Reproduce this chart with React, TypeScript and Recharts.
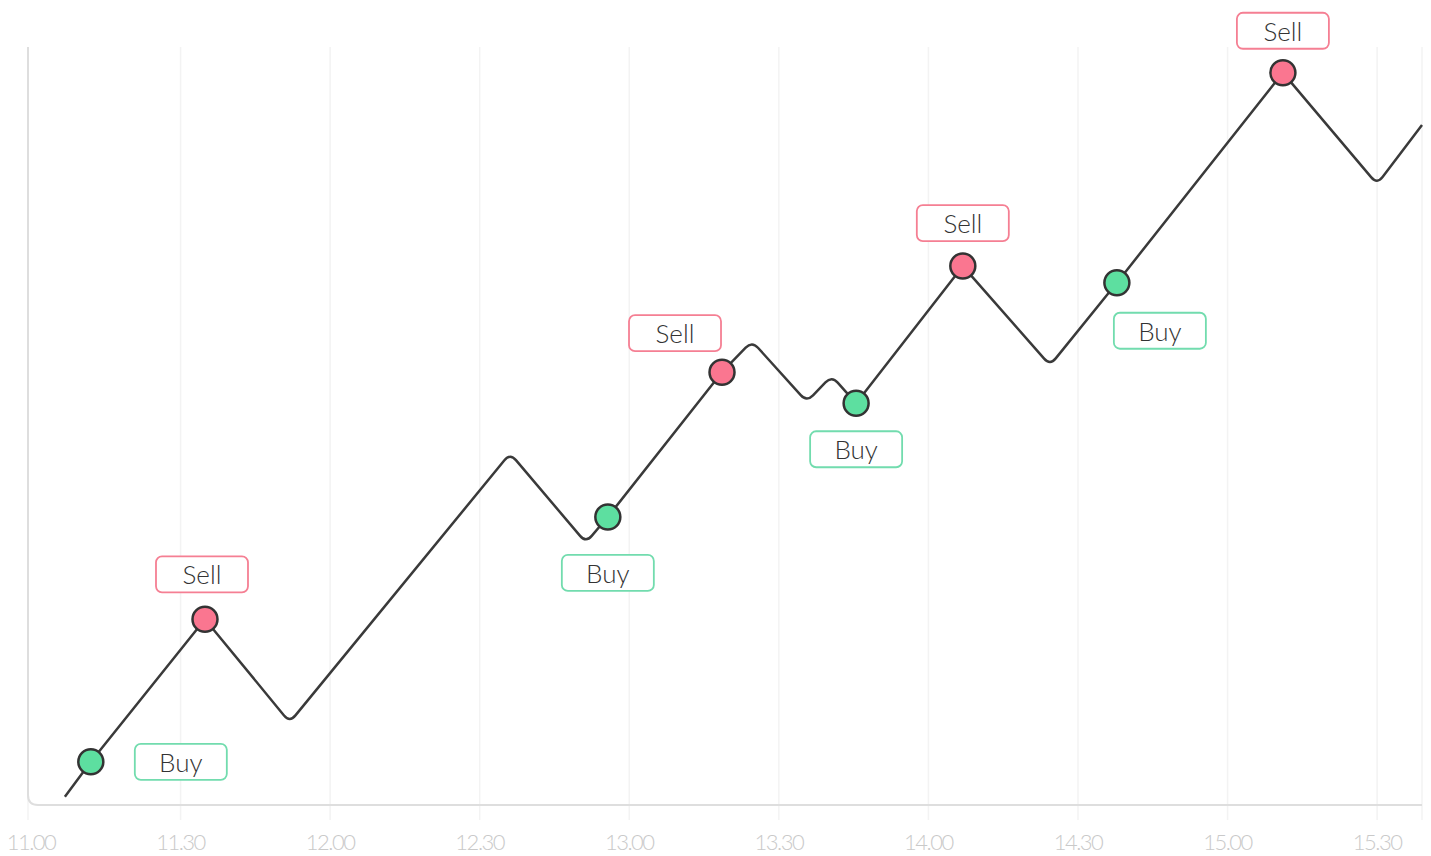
import { LineChart, Line, XAxis, YAxis, CartesianGrid, ReferenceLine } from 'recharts';

// minutes after 11:00
const tickMinutes = [0, 30, 60, 90, 120, 150, 180, 210, 240, 270];
const tickLabels = ['11.00', '11.30', '12.00', '12.30', '13.00', '13.30', '14.00', '14.30', '15.00', '15.30'];

const minutes = [6.8, 12.0, 34.9, 51.9, 96.1, 111.3, 115.7, 138.6, 144.6, 155.6, 160.6, 165.5, 186.9, 204.4, 217.8, 251.1, 270.0, 279.0];
const prices = [1.1, 5.7, 24.5, 10.9, 46.4, 34.6, 38.0, 57.1, 61.2, 53.2, 56.6, 53.0, 71.1, 58.0, 68.9, 96.6, 81.9, 89.7];
const signals = ['', 'Buy', 'Sell', '', '', '', 'Buy', 'Sell', '', '', '', 'Buy', 'Sell', '', 'Buy', 'Sell', '', ''];

// where each signal badge sits relative to its dot (px)
const badgeOffsets: Record<number, [number, number]> = {
  1: [90, 0],
  2: [-3, -45],
  6: [0, 56],
  7: [-47, -39],
  11: [0, 46],
  12: [0, -43],
  14: [43, 48],
  15: [0, -42],
};

const data = minutes.map((t, i) => ({ t, price: prices[i], signal: signals[i] }));

const X_DOMAIN: [number, number] = [-0.6, 279];
const CORNER = 9;
const AXIS_R = 10;
const FONT = 'Lato, "Open Sans", sans-serif';

const COLORS = {
  line: '#3a3a3a',
  Buy: { fill: '#5ddfa0', stroke: '#72dcae' },
  Sell: { fill: '#fa7690', stroke: '#f57f93' },
};

// straight segments with small rounded joints
function roundedCorners(context: any) {
  let pts: [number, number][] = [];
  return {
    areaStart() {},
    areaEnd() {},
    lineStart() { pts = []; },
    point(x: number, y: number) { pts.push([+x, +y]); },
    lineEnd() {
      if (!pts.length) return;
      context.moveTo(pts[0][0], pts[0][1]);
      for (let i = 1; i < pts.length - 1; i++) {
        const [px, py] = pts[i - 1];
        const [x, y] = pts[i];
        const [nx, ny] = pts[i + 1];
        const l1 = Math.hypot(x - px, y - py);
        const l2 = Math.hypot(nx - x, ny - y);
        const d = Math.min(CORNER, l1 / 2, l2 / 2);
        context.lineTo(x - ((x - px) / l1) * d, y - ((y - py) / l1) * d);
        context.quadraticCurveTo(x, y, x + ((nx - x) / l2) * d, y + ((ny - y) / l2) * d);
      }
      const last = pts[pts.length - 1];
      if (pts.length > 1) context.lineTo(last[0], last[1]);
    },
  };
}

const renderSignal = (props: any) => {
  const { cx, cy, index, payload } = props;
  const sig = payload?.signal;
  if (!sig) return <g key={`s-${index}`} />;
  const c = (COLORS as any)[sig];
  const [dx, dy] = badgeOffsets[index] || [0, 0];
  const bw = 92, bh = 36;
  return (
    <g key={`s-${index}`}>
      <rect x={cx + dx - bw / 2} y={cy + dy - bh / 2} width={bw} height={bh} rx={6} ry={6}
        fill="#fff" stroke={c.stroke} strokeWidth={1.8} />
      <text x={cx + dx} y={cy + dy} textAnchor="middle" dominantBaseline="central"
        fontFamily={FONT} fontSize={26} fontWeight={300} fill="#333">{sig}</text>
      <circle cx={cx} cy={cy} r={12.5} fill={c.fill} stroke="#333" strokeWidth={2.5} />
    </g>
  );
};

export default function App() {
  return (
    <div style={{ position: 'absolute', left: 0, top: 0, background: '#fff' }}>
      <LineChart width={1431} height={856} data={data} margin={{ top: 47, right: 9, left: 28, bottom: 6 }}>
        <CartesianGrid horizontal={false}
          vertical={(p: any) => p.index === 0 ? <g key={p.key ?? `v-${p.index}`} /> : (
            <line key={p.key ?? `v-${p.index}`} x1={p.x1} x2={p.x2} y1={Math.min(p.y1, p.y2)} y2={Math.max(p.y1, p.y2) + 15}
              stroke="#f3f3f3" strokeWidth={1.5} />
          )} />
        <XAxis dataKey="t" type="number" domain={X_DOMAIN} ticks={tickMinutes} interval={0}
          tickFormatter={(v: number) => tickLabels[tickMinutes.indexOf(v)] ?? ''}
          axisLine={false} tickLine={false} tickSize={15} tickMargin={14} height={45}
          tick={{ fill: '#c9c9c9', fontSize: 22, fontFamily: FONT, fontWeight: 300, letterSpacing: -1.5 }} />
        <YAxis hide domain={[0, 100]} />
        <ReferenceLine x={X_DOMAIN[0]} shape={(p: any) => {
          const top = Math.min(p.y1, p.y2), bot = Math.max(p.y1, p.y2);
          return <path d={`M${p.x1},${top} L${p.x1},${bot - AXIS_R} Q${p.x1},${bot} ${p.x1 + AXIS_R},${bot}`}
            fill="none" stroke="#dedede" strokeWidth={2} />;
        }} />
        <ReferenceLine y={0} shape={(p: any) => (
          <line x1={Math.min(p.x1, p.x2) + AXIS_R} x2={Math.max(p.x1, p.x2)} y1={p.y1} y2={p.y2}
            stroke="#dedede" strokeWidth={2} />
        )} />
        <Line dataKey="price" type={roundedCorners as any} stroke={COLORS.line} strokeWidth={2.5}
          dot={renderSignal} activeDot={false} isAnimationActive={false} />
      </LineChart>
    </div>
  );
}
